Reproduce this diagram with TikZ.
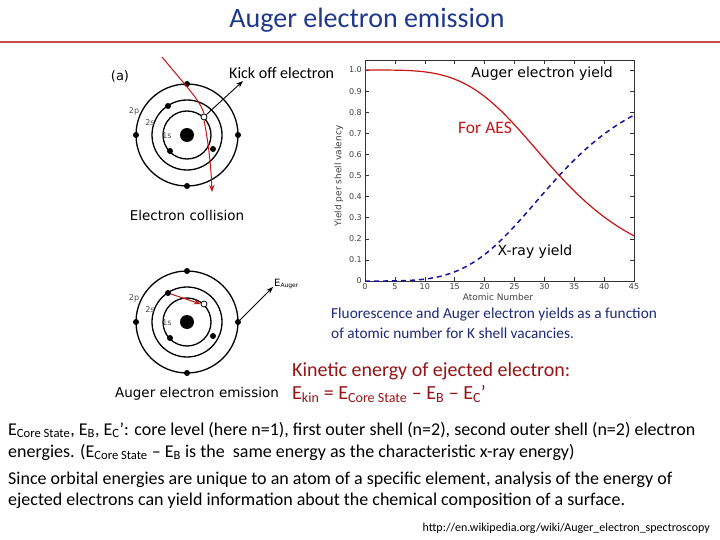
\documentclass[tikz,border=0pt]{standalone}
\usepackage{fontspec}
\setmainfont{Carlito}
\newfontfamily\plotfont{DejaVu Sans}
\usetikzlibrary{arrows.meta}
\definecolor{titleblue}{RGB}{31,56,140}
\definecolor{rulered}{RGB}{192,80,77}
\definecolor{darkred}{RGB}{150,20,20}
\definecolor{capblue}{RGB}{30,40,120}
\definecolor{curvered}{RGB}{200,20,20}
\definecolor{curveblue}{RGB}{20,20,160}
\tikzset{
  ring/.style={draw=black,line width=1.3pt},
  elec/.style={circle,fill=black,inner sep=0pt,minimum size=6pt},
  hole/.style={circle,draw=black,fill=white,inner sep=0pt,minimum size=6pt,line width=0.8pt},
  nuc/.style={circle,fill=black,inner sep=0pt,minimum size=14pt},
  shl/.style={font=\plotfont\fontsize{8}{9}\selectfont,text=black!70,inner sep=0pt},
  lab/.style={font=\plotfont\fontsize{13.5}{15}\selectfont,inner sep=1pt},
  tick/.style={font=\plotfont\fontsize{8}{9}\selectfont,text=black!75,inner sep=1pt},
  redarr/.style={draw=curvered,line width=1pt,-{Stealth[length=7pt]}},
  blkarr/.style={draw=black,line width=0.9pt,-{Stealth[length=7pt]}},
  body/.style={font=\fontsize{18}{21}\selectfont,anchor=base west,inner sep=0pt},
  capt/.style={text=capblue,font=\fontsize{15.3}{18}\selectfont,anchor=base west,inner sep=0pt},
  kint/.style={text=darkred,font=\fontsize{20}{24}\selectfont,anchor=base west,inner sep=0pt}
}
\begin{document}
\begin{tikzpicture}[x=1pt,y=-1pt]
\useasboundingbox (0,0) rectangle (720,540);
% title
\node[text=titleblue,font=\fontsize{28}{32}\selectfont] (title) at (367,20) {Auger electron emission};
\draw[rulered,line width=2.5pt] (0,42) -- (720,42);
% ---- top atom
\begin{scope}[shift={(187,135)}]
\node[nuc] (n1) at (0,0) {};
\draw[ring] (0,0) circle (24);
\draw[ring] (0,0) circle (35);
\draw[ring] (0,0) circle (51);
\node[elec] (o1a) at (-51,0) {}; \node[elec] (o1b) at (51,0) {};
\node[elec] (o1c) at (0,-51) {}; \node[elec] (o1d) at (0,51) {};
\node[elec] (m1a) at (-19,-29) {}; \node[elec] (m1b) at (26,14) {};
\node[elec] (i1a) at (-17,16) {};
\node[hole] (h1) at (17,-18) {};
\node[shl] at (-53,-24) {2p};
\node[shl] at (-37,-12) {2s};
\node[shl] at (-20,1) {1s};
\end{scope}
\node[font=\plotfont\fontsize{13}{14}\selectfont] (a) at (120,76) {(a)};
\coordinate (r1s) at (162,57);
\coordinate (r1e) at (212,192);
\draw[draw=curvered,line width=1pt] (r1s) .. controls (185,85) and (200,100) .. (h1.north);
\draw[redarr] (h1.south) .. controls (208,140) and (211,165) .. (r1e);
\coordinate (k1) at (243,81);
\draw[blkarr] (h1.north east) -- (k1);
\node[font=\fontsize{16}{18}\selectfont,anchor=base west,inner sep=0pt] (kick) at (229,79) {Kick off electron};
\node[lab] (coll) at (187,215) {Electron collision};
% ---- bottom atom
\begin{scope}[shift={(187,322)}]
\node[nuc] (n2) at (0,0) {};
\draw[ring] (0,0) circle (24);
\draw[ring] (0,0) circle (35);
\draw[ring] (0,0) circle (51);
\node[elec] (o2a) at (-51,0) {}; \node[elec] (o2b) at (51,0) {};
\node[elec] (o2c) at (0,-51) {}; \node[elec] (o2d) at (0,51) {};
\node[elec] (m2a) at (-19,-29) {}; \node[elec] (m2b) at (26,14) {};
\node[elec] (i2a) at (-17,16) {};
\node[hole] (h2) at (17,-18) {};
\node[shl] at (-53,-24) {2p};
\node[shl] at (-37,-12) {2s};
\node[shl] at (-20,1) {1s};
\end{scope}
\draw[redarr] (m2a) -- (h2.west);
\coordinate (ea) at (273,287);
\draw[blkarr] (o2b) -- (ea);
\node[font=\plotfont\fontsize{10}{12}\selectfont,anchor=west,inner sep=0pt] (eaug) at (274,284) {E\textsubscript{\fontsize{6}{7}\selectfont Auger}};
\node[lab] (augem) at (197,394) {Auger electron emission};
% ---- plot
\begin{scope}
\draw[black!80,line width=0.6pt] (365,60) rectangle (634,281);
\foreach \i/\l in {0/0,1/0.1,2/0.2,3/0.3,4/0.4,5/0.5,6/0.6,7/0.7,8/0.8,9/0.9,10/1.0}{
  \pgfmathsetmacro\yy{281-21.1*\i}
  \draw[black!80] (365,\yy) -- (369,\yy);
  \draw[black!80] (634,\yy) -- (630,\yy);
  \node[tick,anchor=east] at (363,\yy) {\l};
}
\foreach \z in {0,5,...,45}{
  \pgfmathsetmacro\xx{365+5.978*\z}
  \draw[black!80] (\xx,281) -- (\xx,277);
  \draw[black!80] (\xx,60) -- (\xx,64);
  \node[tick] at (\xx,287) {\z};
}
\draw[curvered,line width=1.2pt,domain=0:45,samples=80,variable=\z]
  plot ({365+5.978*\z},{281-211*(1/(1+(\z/32.5)^4))});
\draw[curveblue,line width=1.5pt,dashed,dash pattern=on 5pt off 4pt,domain=0:45,samples=80,variable=\z]
  plot ({365+5.978*\z},{281-211*(1-1/(1+(\z/32.5)^4))});
\node[lab,font=\plotfont\fontsize{14}{16}\selectfont] (ay) at (542,74) {Auger electron yield};
\node[lab,font=\plotfont\fontsize{14}{16}\selectfont] (xy) at (535,252) {X-ray yield};
\node[text=curvered,font=\fontsize{17.5}{19}\selectfont] (aes) at (485,128) {For AES};
\node[tick,rotate=90,font=\plotfont\fontsize{9}{10}\selectfont] (ylab) at (339,176) {Yield per shell valency};
\node[tick,font=\plotfont\fontsize{9}{10}\selectfont] (xlab) at (498,297) {Atomic Number};
\end{scope}
% caption
\node[capt] (cap1) at (331,318) {Fluorescence and Auger electron yields as a function};
\node[capt] (cap2) at (331,338) {of atomic number for K shell vacancies.};
\node[kint] (kin1) at (292,376) {Kinetic energy of ejected electron:};
\node[kint] (kin2) at (292,399) {E\textsubscript{kin} = E\textsubscript{Core State} -- E\textsubscript{B} -- E\textsubscript{C}'};
% body
\node[body] (b1) at (8,435) {E\textsubscript{Core State}, E\textsubscript{B}, E\textsubscript{C}': core level (here n=1), first outer shell (n=2), second outer shell (n=2) electron};
\node[body] (b2) at (8,457) {energies. (E\textsubscript{Core State} -- E\textsubscript{B} is the\ \ same energy as the characteristic x-ray energy)};
\node[body] (b3) at (8,484) {Since orbital energies are unique to an atom of a specific element, analysis of the energy of};
\node[body] (b4) at (8,505) {ejected electrons can yield information about the chemical composition of a surface.};
\node[font=\fontsize{12}{13}\selectfont,anchor=east,inner sep=0pt] (url) at (710,528) {http://en.wikipedia.org/wiki/Auger\_electron\_spectroscopy};
\end{tikzpicture}
\end{document}
